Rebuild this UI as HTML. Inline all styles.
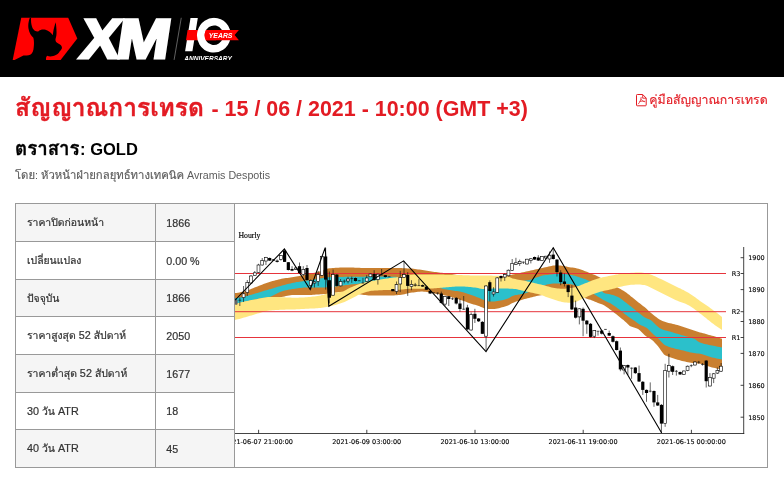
<!DOCTYPE html>
<html lang="th">
<head>
<meta charset="utf-8">
<title>สัญญาณการเทรด</title>
<style>
html,body{margin:0;padding:0;background:#fff;}
body{width:784px;height:483px;overflow:hidden;position:relative;font-family:"Liberation Sans","Loma",sans-serif;color:#333;}
.hdr{position:absolute;left:0;top:0;width:784px;height:77px;background:#000;}
.hdr svg{position:absolute;left:0;top:0;}
h1{position:absolute;left:15px;top:94px;margin:0;font-size:21.45px;line-height:28px;font-weight:bold;color:#e31b23;white-space:nowrap;}
h1 .th{font-size:24.55px;margin-right:1.65px;-webkit-text-stroke:0.35px #e31b23;}
.pdf{position:absolute;left:649.3px;top:90px;font-size:12.3px;line-height:20px;color:#e31b23;white-space:nowrap;}
.pdf .th{-webkit-text-stroke:0.15px #e31b23;}
.pdf svg{position:absolute;left:-13.2px;top:3.5px;}
h2{position:absolute;left:15px;top:138px;margin:0;font-size:16.5px;line-height:22px;font-weight:bold;color:#000;white-space:nowrap;}
h2 .th{font-size:18.7px;margin-right:0.5px;-webkit-text-stroke:0.3px #000;}
.by{position:absolute;left:15px;top:167px;font-size:10.7px;line-height:16px;color:#5c5c5c;white-space:nowrap;}
.by .th{font-size:11.3px;-webkit-text-stroke:0.15px #5c5c5c;}
table{position:absolute;left:15px;top:203px;width:753px;border-collapse:collapse;font-size:11px;color:#333;table-layout:fixed;}
td{border:1px solid #999;padding:0 0 0 11px;white-space:nowrap;overflow:hidden;-webkit-text-stroke:0.2px #333;}
td.k{font-size:10.8px;}
td.k .th{font-size:10.4px;-webkit-text-stroke:0.22px #333;}
td.v{padding-left:10.3px;font-size:10.7px;}
tr:nth-child(odd) td.c{background:#f5f5f5;}
td.g{padding:0;background:#fff;}
svg.chart{position:absolute;left:0;top:0;}
</style>
</head>
<body>
<div class="hdr"><svg width="260" height="77" viewBox="0 0 260 77">
<defs><clipPath id="lc"><rect x="0" y="17.4" width="260" height="42.5"/></clipPath></defs>
<g clip-path="url(#lc)">
<polygon points="21.3,17.5 68.1,17.5 77.3,38.4 60.6,59.9 12.7,59.9" fill="#ff0000"/>
<g transform="translate(10,12) scale(0.10767)">
<path fill="#000" d="M185 50 C172 85 166 120 172 155 C178 190 195 222 217 238 C224 262 224 300 220 330 C218 360 210 385 188 398 C165 408 140 400 125 405 L40 447 L335 447 C332 430 336 412 347 406 C365 418 400 414 430 398 C448 388 460 372 462 364 C474 354 484 340 482 328 C480 312 466 300 448 293 C428 285 418 270 424 245 C436 215 434 170 425 95 C415 120 405 160 400 195 L396 216 C385 195 360 175 330 166 C305 160 280 165 262 180 C240 182 222 170 210 150 C198 125 193 90 196 50 Z"/>
</g>
<g transform="translate(76.2,58.4) skewX(-8.5)"><text x="2.6" y="0" font-family="'Liberation Sans',sans-serif" font-weight="bold" font-size="55.8" fill="#fff" stroke="#fff" stroke-width="3" stroke-linejoin="miter" textLength="39" lengthAdjust="spacingAndGlyphs">X</text><text x="38.6" y="0" font-family="'Liberation Sans',sans-serif" font-weight="bold" font-size="55.8" fill="#fff" stroke="#fff" stroke-width="3" stroke-linejoin="miter" textLength="53.2" lengthAdjust="spacingAndGlyphs">M</text></g>
<line x1="181.3" y1="17.6" x2="174.1" y2="59.9" stroke="#8a8a8a" stroke-width="0.7"/>
<polygon points="190.5,17.9 197.8,17.9 192.4,51.3 185.1,51.3" fill="#fff"/>
<polygon points="187.6,30.1 216,30.1 216,40.2 186,40.2" fill="#ff0000"/>
<ellipse cx="213.9" cy="35.2" rx="13.1" ry="13.6" fill="none" stroke="#fff" stroke-width="7.6" transform="rotate(12 213.9 35.2)"/>
<path d="M206 30.1 H238.9 L234.6 35.1 L238.9 40.2 H206 C204.2 37 204.2 33.3 206 30.1 Z" fill="#ff0000"/>
<text x="208.8" y="37.9" font-family="'Liberation Sans',sans-serif" font-weight="bold" font-style="italic" font-size="8.1" fill="#fff" textLength="23.6" lengthAdjust="spacingAndGlyphs">YEARS</text>
<text x="184.2" y="61.3" font-family="'Liberation Sans',sans-serif" font-weight="bold" font-style="italic" font-size="7.6" fill="#fff" textLength="47.6" lengthAdjust="spacingAndGlyphs">ANNIVERSARY</text>
</g>
</svg>
</div>
<h1><span class="th">สัญญาณการเทรด</span> - 15 / 06 / 2021 - 10:00 (GMT +3)</h1>
<div class="pdf"><svg width="11" height="13" viewBox="0 0 11 13"><path d="M1.3 0.5h5.4l3.5 3.6v6.9q0 .8-.8.800h-8.100q-.800 0-.800-.800v-9.700q0-.800.800-.800z" fill="none" stroke="#e31b23" stroke-width="1"/><path d="M6.7 0.8v3.4h3.4" fill="none" stroke="#e31b23" stroke-width="0.9"/><path d="M2 10.200c1.700-1.500 2.900-4 3.200-7.200M3.400 7.500c1.800-.500 3.900-.500 5.700-.100M5 4.800c.500 1.500 1.800 2.500 3.800 3" fill="none" stroke="#e31b23" stroke-width="0.75"/></svg><span class="th">คู่มือสัญญาณการเทรด</span></div>
<h2><span class="th">ตราสาร</span>: GOLD</h2>
<div class="by"><span class="th">โดย</span>: <span class="th">หัวหน้าฝ่ายกลยุทธ์ทางเทคนิค</span> Avramis Despotis</div>
<table>
<colgroup><col style="width:140px"><col style="width:79px"><col></colgroup>
<tr style="height:38px"><td class="c k"><span class="th">ราคาปิดก่อนหน้า</span></td><td class="c v">1866</td><td class="g" rowspan="7"></td></tr>
<tr style="height:38px"><td class="c k"><span class="th">เปลี่ยนแปลง</span></td><td class="c v">0.00 %</td></tr>
<tr style="height:37px"><td class="c k"><span class="th">ปัจจุบัน</span></td><td class="c v">1866</td></tr>
<tr style="height:38px"><td class="c k"><span class="th">ราคาสูงสุด</span> 52 <span class="th">สัปดาห์</span></td><td class="c v">2050</td></tr>
<tr style="height:38px"><td class="c k"><span class="th">ราคาต่ำสุด</span> 52 <span class="th">สัปดาห์</span></td><td class="c v">1677</td></tr>
<tr style="height:37px"><td class="c k">30 <span class="th">วัน</span> ATR</td><td class="c v">18</td></tr>
<tr style="height:38px"><td class="c k">40 <span class="th">วัน</span> ATR</td><td class="c v">45</td></tr>
</table>
<svg class="chart" width="784" height="483" viewBox="0 0 784 483">
<defs><clipPath id="cc"><rect x="235" y="204" width="532.5" height="263"/></clipPath></defs>
<g clip-path="url(#cc)">
<polygon points="235.0,293.1 236.5,292.9 238.0,292.7 239.5,292.4 241.0,292.1 242.5,291.7 244.0,291.4 245.5,291.0 247.0,290.5 248.5,290.0 250.0,289.4 251.5,288.8 253.0,288.2 254.5,287.6 256.0,287.0 257.5,286.4 259.0,285.8 260.5,285.3 262.0,284.7 263.5,284.1 265.0,283.5 266.5,283.0 268.0,282.5 269.5,282.0 271.0,281.5 272.5,281.1 274.0,280.7 275.5,280.3 277.0,279.9 278.5,279.5 280.0,279.2 281.5,278.8 283.0,278.6 284.5,278.3 286.0,278.1 287.5,277.9 289.0,277.7 290.5,277.5 292.0,277.3 293.5,277.1 295.0,276.8 296.5,276.5 298.0,276.3 299.5,276.0 301.0,275.7 302.5,275.4 304.0,275.0 305.5,274.7 307.0,274.4 308.5,274.1 310.0,273.8 311.5,273.4 313.0,273.1 314.5,272.8 316.0,272.4 317.5,272.0 319.0,271.6 320.5,271.2 322.0,270.6 323.5,269.9 325.0,269.3 326.5,268.8 328.0,268.5 329.5,268.3 331.0,268.2 332.5,268.1 334.0,267.9 335.5,267.8 337.0,267.7 338.5,267.7 340.0,267.6 341.5,267.5 343.0,267.5 344.5,267.5 346.0,267.5 347.5,267.5 349.0,267.5 350.5,267.6 352.0,267.6 353.5,267.6 355.0,267.7 356.5,267.7 358.0,267.8 359.5,267.8 361.0,267.9 362.5,267.9 364.0,267.9 365.5,268.0 367.0,268.0 368.5,268.0 370.0,268.0 371.5,268.0 373.0,268.0 374.5,268.0 376.0,268.0 377.5,268.0 379.0,268.0 380.5,268.0 382.0,268.0 383.5,268.0 385.0,268.0 386.5,268.0 388.0,268.0 389.5,268.0 391.0,268.0 392.5,268.0 394.0,268.0 395.5,268.0 397.0,268.0 398.5,268.0 400.0,268.1 401.5,268.1 403.0,268.2 404.5,268.2 406.0,268.3 407.5,268.4 409.0,268.4 410.5,268.5 412.0,268.6 413.5,268.8 415.0,269.0 416.5,269.2 418.0,269.4 419.5,269.6 421.0,269.8 422.5,270.0 424.0,270.2 425.5,270.5 427.0,270.7 428.5,271.0 430.0,271.2 431.5,271.5 433.0,271.7 434.5,271.9 436.0,272.1 437.5,272.3 439.0,272.5 440.5,272.7 442.0,272.8 443.5,273.0 445.0,273.2 446.5,273.4 448.0,273.6 449.5,273.8 451.0,274.0 452.5,274.3 454.0,274.6 455.5,274.8 457.0,275.1 458.5,275.3 460.0,275.5 461.5,275.7 463.0,275.9 464.5,276.1 466.0,276.3 467.5,276.5 469.0,276.7 470.5,276.9 472.0,277.0 473.5,277.2 475.0,277.3 476.5,277.4 478.0,277.5 479.5,277.5 481.0,277.5 482.5,277.5 484.0,277.5 485.5,277.5 487.0,277.5 488.5,277.5 490.0,277.5 491.5,277.5 493.0,277.5 494.5,277.5 496.0,277.5 497.5,277.5 499.0,277.5 500.5,277.5 502.0,277.2 503.5,276.8 505.0,276.3 506.5,275.9 508.0,275.6 509.5,275.2 511.0,274.9 512.5,274.6 514.0,274.3 515.5,273.9 517.0,273.6 518.5,273.2 520.0,272.9 521.5,272.5 523.0,272.2 524.5,271.9 526.0,271.5 527.5,271.2 529.0,270.9 530.5,270.5 532.0,270.2 533.5,269.9 535.0,269.5 536.5,269.2 538.0,268.9 539.5,268.6 541.0,268.2 542.5,267.9 544.0,267.5 545.5,267.2 547.0,266.9 548.5,266.5 550.0,266.2 551.5,265.9 553.0,265.6 554.5,265.4 556.0,265.2 557.5,265.3 559.0,265.4 560.5,265.6 562.0,265.8 563.5,266.0 565.0,266.3 566.5,266.6 568.0,266.9 569.5,267.2 571.0,267.4 572.5,267.6 574.0,267.8 575.5,268.1 577.0,268.4 578.5,268.8 580.0,269.3 581.5,269.8 583.0,270.3 584.5,270.9 586.0,271.5 587.5,272.1 589.0,272.7 590.5,273.3 592.0,273.9 593.5,274.5 595.0,275.1 596.5,275.8 598.0,276.5 599.5,277.2 601.0,278.1 602.5,278.9 604.0,279.8 605.5,280.7 607.0,281.6 608.5,282.4 610.0,283.3 611.5,284.2 613.0,285.0 614.5,285.8 616.0,286.6 617.5,287.4 619.0,288.3 620.5,289.1 622.0,289.9 623.5,290.8 625.0,291.7 626.5,292.8 628.0,293.9 629.5,295.1 631.0,296.4 632.5,297.6 634.0,298.8 635.5,300.0 637.0,301.2 638.5,302.5 640.0,303.6 641.5,304.8 643.0,305.9 644.5,307.0 646.0,308.3 647.5,309.7 649.0,311.2 650.5,312.5 652.0,313.7 653.5,315.0 655.0,316.2 656.5,317.3 658.0,318.4 659.5,319.4 661.0,320.3 662.5,321.0 664.0,321.6 665.5,322.1 667.0,322.6 668.5,322.9 670.0,323.3 671.5,323.6 673.0,324.0 674.5,324.3 676.0,324.7 677.5,325.1 679.0,325.6 680.5,326.0 682.0,326.5 683.5,327.0 685.0,327.5 686.5,328.0 688.0,328.5 689.5,329.1 691.0,329.6 692.5,330.1 694.0,330.6 695.5,331.1 697.0,331.5 698.5,331.9 700.0,332.4 701.5,332.8 703.0,333.2 704.5,333.6 706.0,334.0 707.5,334.4 709.0,334.9 710.5,335.3 712.0,335.7 713.5,336.1 715.0,336.6 716.5,337.0 718.0,337.5 719.5,338.0 722.0,338.8 722.0,369.4 719.5,369.0 718.0,368.7 716.5,368.4 715.0,368.1 713.5,367.7 712.0,367.4 710.5,366.9 709.0,366.5 707.5,365.9 706.0,365.4 704.5,364.9 703.0,364.4 701.5,364.0 700.0,363.8 698.5,363.6 697.0,363.4 695.5,363.3 694.0,363.1 692.5,362.9 691.0,362.7 689.5,362.4 688.0,362.2 686.5,361.9 685.0,361.6 683.5,361.2 682.0,360.9 680.5,360.5 679.0,360.1 677.5,359.7 676.0,359.2 674.5,358.7 673.0,358.2 671.5,357.7 670.0,357.2 668.5,356.7 667.0,356.1 665.5,355.4 664.0,354.4 662.5,352.6 661.0,350.4 659.5,348.2 658.0,346.3 656.5,344.6 655.0,342.9 653.5,341.3 652.0,340.0 650.5,339.0 649.0,338.1 647.5,337.2 646.0,336.2 644.5,335.0 643.0,333.5 641.5,331.9 640.0,330.5 638.5,329.3 637.0,328.5 635.5,328.0 634.0,327.5 632.5,327.1 631.0,326.5 629.5,325.7 628.0,324.3 626.5,322.8 625.0,321.4 623.5,320.1 622.0,318.9 620.5,317.7 619.0,316.5 617.5,315.3 616.0,314.1 614.5,312.9 613.0,311.7 611.5,310.5 610.0,309.4 608.5,308.3 607.0,307.2 605.5,306.2 604.0,305.3 602.5,304.6 601.0,304.0 599.5,303.4 598.0,302.9 596.5,302.3 595.0,301.7 593.5,301.0 592.0,300.4 590.5,299.8 589.0,299.4 587.5,299.0 586.0,298.4 584.5,297.7 583.0,296.8 581.5,295.9 580.0,295.0 578.5,294.2 577.0,293.5 575.5,293.1 574.0,292.9 572.5,292.7 571.0,292.5 569.5,292.4 568.0,292.2 566.5,292.1 565.0,292.0 563.5,292.0 562.0,292.0 560.5,292.0 559.0,292.1 557.5,292.2 556.0,292.3 554.5,292.5 553.0,292.6 551.5,292.8 550.0,293.0 548.5,293.3 547.0,293.7 545.5,294.2 544.0,294.6 542.5,294.9 541.0,295.2 539.5,295.5 538.0,295.8 536.5,296.1 535.0,296.5 533.5,296.8 532.0,297.2 530.5,297.5 529.0,297.9 527.5,298.3 526.0,298.7 524.5,299.1 523.0,299.6 521.5,300.0 520.0,300.4 518.5,300.9 517.0,301.3 515.5,301.8 514.0,302.4 512.5,303.0 511.0,303.8 509.5,304.7 508.0,305.5 506.5,306.0 505.0,306.5 503.5,306.9 502.0,307.3 500.5,307.8 499.0,308.2 497.5,308.5 496.0,308.7 494.5,308.9 493.0,309.0 491.5,309.1 490.0,309.1 488.5,309.0 487.0,308.8 485.5,308.6 484.0,308.3 482.5,307.6 481.0,306.9 479.5,306.2 478.0,305.7 476.5,305.2 475.0,304.8 473.5,304.4 472.0,303.9 470.5,303.4 469.0,302.9 467.5,302.4 466.0,301.8 464.5,301.3 463.0,300.8 461.5,300.2 460.0,299.8 458.5,299.3 457.0,298.8 455.5,298.3 454.0,297.8 452.5,297.4 451.0,296.9 449.5,296.5 448.0,296.1 446.5,295.8 445.0,295.4 443.5,295.1 442.0,294.8 440.5,294.6 439.0,294.3 437.5,294.0 436.0,293.7 434.5,293.4 433.0,293.1 431.5,292.7 430.0,292.4 428.5,292.2 427.0,292.0 425.5,291.8 424.0,291.7 422.5,291.6 421.0,291.6 419.5,291.7 418.0,291.8 416.5,292.0 415.0,292.2 413.5,292.4 412.0,292.6 410.5,292.8 409.0,293.1 407.5,293.4 406.0,293.8 404.5,294.2 403.0,294.5 401.5,294.8 400.0,295.0 398.5,295.1 397.0,295.2 395.5,295.3 394.0,295.4 392.5,295.4 391.0,295.5 389.5,295.5 388.0,295.6 386.5,295.6 385.0,295.6 383.5,295.6 382.0,295.6 380.5,295.6 379.0,295.6 377.5,295.6 376.0,295.6 374.5,295.6 373.0,295.6 371.5,295.6 370.0,295.5 368.5,295.4 367.0,295.3 365.5,295.1 364.0,294.9 362.5,294.7 361.0,294.5 359.5,294.3 358.0,294.0 356.5,293.7 355.0,293.3 353.5,293.0 352.0,292.7 350.5,292.5 349.0,292.4 347.5,292.3 346.0,292.2 344.5,292.1 343.0,292.1 341.5,292.0 340.0,292.0 338.5,292.1 337.0,292.4 335.5,292.7 334.0,293.1 332.5,293.3 331.0,293.5 329.5,293.7 328.0,293.8 326.5,293.9 325.0,294.0 323.5,294.1 322.0,294.2 320.5,294.3 319.0,294.4 317.5,294.5 316.0,294.6 314.5,294.7 313.0,294.8 311.5,294.9 310.0,294.9 308.5,295.0 307.0,295.0 305.5,295.0 304.0,295.0 302.5,295.0 301.0,295.0 299.5,295.0 298.0,295.0 296.5,295.0 295.0,295.0 293.5,295.0 292.0,295.1 290.5,295.3 289.0,295.6 287.5,295.8 286.0,296.1 284.5,296.4 283.0,296.7 281.5,297.0 280.0,297.2 278.5,297.4 277.0,297.7 275.5,297.9 274.0,298.1 272.5,298.4 271.0,298.7 269.5,299.0 268.0,299.4 266.5,299.8 265.0,300.3 263.5,300.8 262.0,301.4 260.5,301.9 259.0,302.4 257.5,302.9 256.0,303.3 254.5,303.7 253.0,304.1 251.5,304.4 250.0,304.8 248.5,305.2 247.0,305.5 245.5,305.9 244.0,306.2 242.5,306.6 241.0,306.9 239.5,307.2 238.0,307.5 236.5,307.7 235.0,308.0" fill="#c97f2f"/>
<polygon points="235.0,298.1 236.5,297.9 238.0,297.7 239.5,297.4 241.0,297.2 242.5,296.9 244.0,296.6 245.5,296.3 247.0,295.9 248.5,295.5 250.0,295.1 251.5,294.7 253.0,294.2 254.5,293.7 256.0,293.3 257.5,292.9 259.0,292.4 260.5,292.0 262.0,291.5 263.5,291.1 265.0,290.6 266.5,290.2 268.0,289.7 269.5,289.3 271.0,288.9 272.5,288.4 274.0,287.9 275.5,287.5 277.0,287.0 278.5,286.6 280.0,286.2 281.5,285.7 283.0,285.3 284.5,284.9 286.0,284.5 287.5,284.1 289.0,283.7 290.5,283.4 292.0,283.0 293.5,282.7 295.0,282.4 296.5,282.1 298.0,281.9 299.5,281.7 301.0,281.5 302.5,281.2 304.0,281.0 305.5,280.8 307.0,280.6 308.5,280.4 310.0,280.2 311.5,279.9 313.0,279.7 314.5,279.5 316.0,279.3 317.5,279.0 319.0,278.8 320.5,278.6 322.0,278.3 323.5,278.1 325.0,277.8 326.5,277.6 328.0,277.3 329.5,277.2 331.0,277.0 332.5,277.0 334.0,277.0 335.5,276.9 337.0,276.9 338.5,276.9 340.0,276.9 341.5,276.9 343.0,276.9 344.5,276.8 346.0,276.8 347.5,276.8 349.0,276.8 350.5,276.8 352.0,276.8 353.5,276.8 355.0,276.8 356.5,276.8 358.0,276.7 359.5,276.7 361.0,276.7 362.5,276.7 364.0,276.7 365.5,276.6 367.0,276.6 368.5,276.6 370.0,276.6 371.5,276.6 373.0,276.6 374.5,276.5 376.0,276.5 377.5,276.5 379.0,276.5 380.5,276.5 382.0,276.5 383.5,276.5 385.0,276.5 386.5,276.5 388.0,276.6 389.5,276.6 391.0,276.7 392.5,276.7 394.0,276.8 395.5,276.8 397.0,276.9 398.5,276.9 400.0,277.0 401.5,277.1 403.0,277.1 404.5,277.2 406.0,277.3 407.5,277.4 409.0,277.5 410.5,277.6 412.0,277.7 413.5,277.8 415.0,278.0 416.5,278.1 418.0,278.2 419.5,278.3 421.0,278.4 422.5,278.6 424.0,278.7 425.5,278.8 427.0,278.9 428.5,279.0 430.0,279.2 431.5,279.3 433.0,279.4 434.5,279.5 436.0,279.6 437.5,279.7 439.0,279.9 440.5,280.0 442.0,280.1 443.5,280.2 445.0,280.4 446.5,280.5 448.0,280.6 449.5,280.7 451.0,280.8 452.5,281.0 454.0,281.1 455.5,281.2 457.0,281.4 458.5,281.5 460.0,281.7 461.5,281.8 463.0,282.0 464.5,282.1 466.0,282.3 467.5,282.4 469.0,282.6 470.5,282.7 472.0,282.8 473.5,282.9 475.0,282.9 476.5,283.0 478.0,283.0 479.5,283.0 481.0,283.0 482.5,283.0 484.0,283.0 485.5,283.0 487.0,283.0 488.5,283.0 490.0,283.0 491.5,283.0 493.0,283.0 494.5,283.0 496.0,283.0 497.5,283.0 499.0,283.0 500.5,283.0 502.0,283.0 503.5,282.9 505.0,282.9 506.5,282.8 508.0,282.7 509.5,282.6 511.0,282.5 512.5,282.4 514.0,282.2 515.5,282.1 517.0,281.9 518.5,281.7 520.0,281.5 521.5,281.2 523.0,281.0 524.5,280.8 526.0,280.5 527.5,280.3 529.0,280.0 530.5,279.7 532.0,279.3 533.5,278.8 535.0,278.1 536.5,277.5 538.0,276.9 539.5,276.4 541.0,276.0 542.5,275.6 544.0,275.2 545.5,275.0 547.0,274.9 548.5,274.7 550.0,274.6 551.5,274.4 553.0,274.2 554.5,274.1 556.0,274.0 557.5,274.0 559.0,274.0 560.5,274.0 562.0,274.0 563.5,274.0 565.0,274.1 566.5,274.3 568.0,274.5 569.5,274.7 571.0,274.9 572.5,275.3 574.0,275.6 575.5,276.0 577.0,276.5 578.5,276.9 580.0,277.4 581.5,277.9 583.0,278.5 584.5,279.0 586.0,279.6 587.5,280.2 589.0,280.9 590.5,281.4 592.0,282.0 593.5,282.7 595.0,283.4 596.5,284.3 598.0,285.2 599.5,287.0 601.0,289.4 602.5,291.7 604.0,293.0 605.5,293.5 607.0,293.8 608.5,294.0 610.0,294.3 611.5,294.7 613.0,295.1 614.5,295.6 616.0,296.2 617.5,296.8 619.0,297.6 620.5,298.5 622.0,299.5 623.5,300.7 625.0,301.9 626.5,303.0 628.0,304.2 629.5,305.4 631.0,306.6 632.5,307.8 634.0,309.0 635.5,310.2 637.0,311.4 638.5,312.7 640.0,313.8 641.5,315.0 643.0,316.2 644.5,317.3 646.0,318.1 647.5,318.7 649.0,319.3 650.5,320.0 652.0,321.1 653.5,322.6 655.0,324.1 656.5,325.4 658.0,326.7 659.5,327.9 661.0,328.8 662.5,329.4 664.0,329.9 665.5,330.4 667.0,330.8 668.5,331.2 670.0,331.6 671.5,332.1 673.0,332.5 674.5,333.0 676.0,333.4 677.5,333.8 679.0,334.3 680.5,334.7 682.0,335.2 683.5,335.6 685.0,336.0 686.5,336.4 688.0,336.8 689.5,337.2 691.0,337.7 692.5,338.2 694.0,338.8 695.5,339.6 697.0,340.7 698.5,341.7 700.0,342.5 701.5,343.0 703.0,343.5 704.5,343.9 706.0,344.2 707.5,344.6 709.0,344.9 710.5,345.2 712.0,345.5 713.5,345.8 715.0,346.1 716.5,346.4 718.0,346.7 719.5,347.0 722.0,347.5 722.0,359.4 719.5,359.0 718.0,358.7 716.5,358.4 715.0,358.1 713.5,357.7 712.0,357.4 710.5,356.9 709.0,356.5 707.5,355.9 706.0,355.4 704.5,354.9 703.0,354.4 701.5,354.0 700.0,353.8 698.5,353.6 697.0,353.4 695.5,353.3 694.0,353.1 692.5,352.8 691.0,352.5 689.5,352.2 688.0,351.8 686.5,351.4 685.0,351.0 683.5,350.6 682.0,350.2 680.5,349.9 679.0,349.6 677.5,349.2 676.0,348.9 674.5,348.5 673.0,348.1 671.5,347.7 670.0,347.2 668.5,346.7 667.0,346.1 665.5,345.4 664.0,344.5 662.5,343.1 661.0,341.4 659.5,339.8 658.0,338.3 656.5,337.0 655.0,335.7 653.5,334.4 652.0,333.1 650.5,331.6 649.0,330.1 647.5,328.6 646.0,327.5 644.5,326.7 643.0,326.1 641.5,325.4 640.0,324.7 638.5,323.8 637.0,322.7 635.5,321.6 634.0,320.5 632.5,319.5 631.0,318.4 629.5,317.4 628.0,316.4 626.5,315.3 625.0,314.2 623.5,313.0 622.0,311.7 620.5,310.5 619.0,309.3 617.5,308.2 616.0,307.0 614.5,305.9 613.0,304.9 611.5,304.0 610.0,303.1 608.5,302.4 607.0,301.7 605.5,301.0 604.0,300.2 602.5,299.4 601.0,298.5 599.5,297.6 598.0,296.7 596.5,295.7 595.0,294.8 593.5,293.9 592.0,293.0 590.5,292.1 589.0,291.3 587.5,290.5 586.0,289.8 584.5,289.0 583.0,288.3 581.5,287.6 580.0,287.0 578.5,286.4 577.0,285.9 575.5,285.4 574.0,285.0 572.5,284.6 571.0,284.3 569.5,284.1 568.0,283.9 566.5,283.7 565.0,283.5 563.5,283.4 562.0,283.4 560.5,283.4 559.0,283.4 557.5,283.4 556.0,283.4 554.5,283.5 553.0,283.6 551.5,283.8 550.0,284.0 548.5,284.3 547.0,284.6 545.5,285.1 544.0,285.6 542.5,286.1 541.0,286.7 539.5,287.2 538.0,287.8 536.5,288.4 535.0,289.0 533.5,289.7 532.0,290.5 530.5,291.2 529.0,291.9 527.5,292.5 526.0,293.1 524.5,293.5 523.0,293.9 521.5,294.1 520.0,294.4 518.5,294.6 517.0,294.9 515.5,295.1 514.0,295.5 512.5,295.9 511.0,296.7 509.5,297.7 508.0,298.5 506.5,299.0 505.0,299.5 503.5,299.9 502.0,300.2 500.5,300.5 499.0,300.8 497.5,301.0 496.0,301.2 494.5,301.4 493.0,301.5 491.5,301.6 490.0,301.5 488.5,301.3 487.0,301.0 485.5,300.5 484.0,300.1 482.5,299.5 481.0,298.8 479.5,298.1 478.0,297.5 476.5,296.9 475.0,296.3 473.5,295.8 472.0,295.2 470.5,294.7 469.0,294.2 467.5,293.7 466.0,293.2 464.5,292.7 463.0,292.3 461.5,291.9 460.0,291.6 458.5,291.3 457.0,291.1 455.5,290.9 454.0,290.7 452.5,290.5 451.0,290.3 449.5,290.1 448.0,289.8 446.5,289.6 445.0,289.2 443.5,288.9 442.0,288.5 440.5,288.1 439.0,287.8 437.5,287.4 436.0,287.0 434.5,286.6 433.0,286.2 431.5,285.9 430.0,285.5 428.5,285.1 427.0,284.8 425.5,284.4 424.0,283.9 422.5,283.5 421.0,283.0 419.5,282.6 418.0,282.2 416.5,281.8 415.0,281.5 413.5,281.3 412.0,281.1 410.5,281.0 409.0,281.0 407.5,281.0 406.0,281.0 404.5,281.0 403.0,281.0 401.5,281.0 400.0,281.0 398.5,281.0 397.0,281.0 395.5,281.0 394.0,281.0 392.5,281.0 391.0,281.1 389.5,281.2 388.0,281.2 386.5,281.3 385.0,281.4 383.5,281.5 382.0,281.6 380.5,281.7 379.0,281.8 377.5,281.9 376.0,282.1 374.5,282.2 373.0,282.3 371.5,282.5 370.0,282.6 368.5,282.7 367.0,282.9 365.5,283.0 364.0,283.1 362.5,283.3 361.0,283.4 359.5,283.6 358.0,283.7 356.5,283.9 355.0,284.0 353.5,284.2 352.0,284.3 350.5,284.5 349.0,284.7 347.5,284.9 346.0,285.0 344.5,285.2 343.0,285.4 341.5,285.6 340.0,285.8 338.5,286.0 337.0,286.3 335.5,286.6 334.0,286.8 332.5,287.0 331.0,287.1 329.5,287.2 328.0,287.2 326.5,287.3 325.0,287.4 323.5,287.4 322.0,287.5 320.5,287.5 319.0,287.5 317.5,287.5 316.0,287.5 314.5,287.5 313.0,287.5 311.5,287.5 310.0,287.5 308.5,287.5 307.0,287.5 305.5,287.5 304.0,287.6 302.5,287.7 301.0,287.9 299.5,288.1 298.0,288.3 296.5,288.5 295.0,288.7 293.5,288.9 292.0,289.1 290.5,289.4 289.0,289.6 287.5,289.9 286.0,290.2 284.5,290.6 283.0,291.0 281.5,291.4 280.0,292.0 278.5,292.7 277.0,293.4 275.5,294.3 274.0,295.1 272.5,295.8 271.0,296.4 269.5,296.9 268.0,297.2 266.5,297.5 265.0,297.8 263.5,298.0 262.0,298.2 260.5,298.4 259.0,298.6 257.5,298.9 256.0,299.2 254.5,299.5 253.0,299.9 251.5,300.2 250.0,300.6 248.5,301.0 247.0,301.3 245.5,301.7 244.0,302.0 242.5,302.3 241.0,302.6 239.5,302.9 238.0,303.2 236.5,303.5 235.0,303.8" fill="#2bc0cb"/>
<polygon points="235.0,303.8 236.5,303.4 238.0,303.0 239.5,302.7 241.0,302.3 242.5,302.0 244.0,301.6 245.5,301.3 247.0,301.0 248.5,300.7 250.0,300.3 251.5,300.0 253.0,299.7 254.5,299.5 256.0,299.2 257.5,298.9 259.0,298.6 260.5,298.3 262.0,298.0 263.5,297.7 265.0,297.4 266.5,297.2 268.0,297.1 269.5,297.0 271.0,297.0 272.5,297.0 274.0,297.0 275.5,297.1 277.0,297.1 278.5,297.1 280.0,297.2 281.5,297.2 283.0,297.2 284.5,297.3 286.0,297.4 287.5,297.5 289.0,297.6 290.5,297.6 292.0,297.7 293.5,297.7 295.0,297.7 296.5,297.7 298.0,297.7 299.5,297.6 301.0,297.6 302.5,297.5 304.0,297.4 305.5,297.3 307.0,297.2 308.5,297.1 310.0,297.0 311.5,296.8 313.0,296.6 314.5,296.4 316.0,296.2 317.5,295.9 319.0,295.7 320.5,295.4 322.0,295.1 323.5,294.7 325.0,294.2 326.5,293.8 328.0,293.5 329.5,293.1 331.0,292.9 332.5,292.8 334.0,292.6 335.5,292.5 337.0,292.4 338.5,292.3 340.0,292.1 341.5,291.8 343.0,291.4 344.5,290.7 346.0,290.0 347.5,289.1 349.0,288.3 350.5,287.6 352.0,287.0 353.5,286.3 355.0,285.7 356.5,285.0 358.0,284.5 359.5,283.9 361.0,283.4 362.5,283.0 364.0,282.6 365.5,282.3 367.0,281.9 368.5,281.6 370.0,281.3 371.5,281.1 373.0,280.8 374.5,280.5 376.0,280.3 377.5,280.0 379.0,279.8 380.5,279.5 382.0,279.3 383.5,279.1 385.0,278.8 386.5,278.6 388.0,278.4 389.5,278.1 391.0,277.9 392.5,277.7 394.0,277.5 395.5,277.4 397.0,277.2 398.5,277.1 400.0,276.9 401.5,276.6 403.0,276.3 404.5,275.8 406.0,275.4 407.5,275.1 409.0,274.8 410.5,274.7 412.0,274.7 413.5,274.6 415.0,274.6 416.5,274.6 418.0,274.5 419.5,274.5 421.0,274.5 422.5,274.5 424.0,274.5 425.5,274.5 427.0,274.5 428.5,274.5 430.0,274.5 431.5,274.5 433.0,274.5 434.5,274.5 436.0,274.5 437.5,274.5 439.0,274.5 440.5,274.6 442.0,274.6 443.5,274.6 445.0,274.7 446.5,274.7 448.0,274.8 449.5,274.8 451.0,274.8 452.5,274.9 454.0,274.9 455.5,275.0 457.0,275.0 458.5,275.0 460.0,275.1 461.5,275.1 463.0,275.2 464.5,275.2 466.0,275.3 467.5,275.3 469.0,275.3 470.5,275.4 472.0,275.4 473.5,275.4 475.0,275.4 476.5,275.5 478.0,275.5 479.5,275.5 481.0,275.5 482.5,275.5 484.0,275.5 485.5,275.6 487.0,275.6 488.5,275.6 490.0,275.6 491.5,275.6 493.0,275.7 494.5,275.7 496.0,275.7 497.5,275.8 499.0,275.8 500.5,275.9 502.0,275.9 503.5,276.0 505.0,276.2 506.5,276.3 508.0,276.5 509.5,277.0 511.0,277.8 512.5,278.4 514.0,278.8 515.5,279.1 517.0,279.4 518.5,279.7 520.0,280.0 521.5,280.2 523.0,280.5 524.5,280.8 526.0,281.1 527.5,281.4 529.0,281.8 530.5,282.1 532.0,282.5 533.5,282.8 535.0,283.2 536.5,283.5 538.0,283.9 539.5,284.2 541.0,284.6 542.5,284.9 544.0,285.3 545.5,285.7 547.0,286.2 548.5,286.6 550.0,287.0 551.5,287.4 553.0,287.7 554.5,288.1 556.0,288.3 557.5,288.5 559.0,288.6 560.5,288.7 562.0,288.8 563.5,288.8 565.0,288.7 566.5,288.5 568.0,288.3 569.5,288.1 571.0,287.9 572.5,287.7 574.0,287.4 575.5,287.1 577.0,286.6 578.5,286.0 580.0,285.4 581.5,284.8 583.0,284.2 584.5,283.6 586.0,283.0 587.5,282.4 589.0,281.8 590.5,281.2 592.0,280.6 593.5,280.0 595.0,279.4 596.5,278.9 598.0,278.4 599.5,278.0 601.0,277.7 602.5,277.3 604.0,277.0 605.5,276.7 607.0,276.4 608.5,276.1 610.0,275.8 611.5,275.5 613.0,275.2 614.5,274.9 616.0,274.6 617.5,274.4 619.0,274.1 620.5,273.9 622.0,273.7 623.5,273.4 625.0,273.3 626.5,273.1 628.0,273.0 629.5,272.9 631.0,272.8 632.5,272.7 634.0,272.7 635.5,272.6 637.0,272.6 638.5,272.6 640.0,272.6 641.5,272.6 643.0,272.8 644.5,272.9 646.0,273.2 647.5,273.6 649.0,274.1 650.5,274.6 652.0,275.1 653.5,275.7 655.0,276.3 656.5,277.0 658.0,277.7 659.5,278.4 661.0,279.1 662.5,279.8 664.0,280.5 665.5,281.2 667.0,281.9 668.5,282.7 670.0,283.5 671.5,284.2 673.0,285.0 674.5,285.7 676.0,286.5 677.5,287.2 679.0,287.9 680.5,288.6 682.0,289.4 683.5,290.1 685.0,290.9 686.5,291.7 688.0,292.5 689.5,293.4 691.0,294.4 692.5,295.4 694.0,296.5 695.5,297.6 697.0,298.7 698.5,299.8 700.0,300.9 701.5,301.9 703.0,303.0 704.5,304.0 706.0,305.0 707.5,306.1 709.0,307.1 710.5,308.2 712.0,309.3 713.5,310.4 715.0,311.5 716.5,312.6 718.0,313.8 719.5,315.0 722.0,317.0 722.0,330.0 719.5,328.3 718.0,327.3 716.5,326.3 715.0,325.2 713.5,324.1 712.0,323.0 710.5,321.8 709.0,320.6 707.5,319.4 706.0,318.1 704.5,316.9 703.0,315.7 701.5,314.5 700.0,313.4 698.5,312.2 697.0,311.1 695.5,309.9 694.0,308.8 692.5,307.7 691.0,306.7 689.5,305.8 688.0,305.0 686.5,304.3 685.0,303.6 683.5,303.0 682.0,302.5 680.5,301.9 679.0,301.4 677.5,300.8 676.0,300.2 674.5,299.5 673.0,298.8 671.5,298.1 670.0,297.3 668.5,296.6 667.0,295.8 665.5,295.0 664.0,294.3 662.5,293.5 661.0,292.7 659.5,292.0 658.0,291.2 656.5,290.4 655.0,289.7 653.5,288.9 652.0,288.2 650.5,287.5 649.0,286.8 647.5,286.1 646.0,285.5 644.5,285.1 643.0,284.9 641.5,284.7 640.0,284.6 638.5,284.6 637.0,284.6 635.5,284.6 634.0,284.7 632.5,284.7 631.0,284.8 629.5,285.0 628.0,285.3 626.5,285.6 625.0,285.8 623.5,286.1 622.0,286.4 620.5,286.7 619.0,287.1 617.5,287.5 616.0,287.9 614.5,288.4 613.0,288.8 611.5,289.2 610.0,289.6 608.5,289.9 607.0,290.2 605.5,290.5 604.0,290.8 602.5,291.2 601.0,291.6 599.5,292.1 598.0,292.6 596.5,293.1 595.0,293.6 593.5,294.1 592.0,294.6 590.5,295.2 589.0,295.8 587.5,296.5 586.0,297.2 584.5,297.9 583.0,298.6 581.5,299.3 580.0,300.0 578.5,300.8 577.0,301.4 575.5,301.9 574.0,302.2 572.5,302.5 571.0,302.7 569.5,302.8 568.0,302.8 566.5,302.6 565.0,302.4 563.5,302.2 562.0,301.9 560.5,301.6 559.0,301.2 557.5,300.7 556.0,300.3 554.5,299.8 553.0,299.3 551.5,298.8 550.0,298.3 548.5,297.8 547.0,297.2 545.5,296.7 544.0,296.1 542.5,295.6 541.0,295.1 539.5,294.6 538.0,294.1 536.5,293.7 535.0,293.4 533.5,293.0 532.0,292.7 530.5,292.4 529.0,292.1 527.5,291.8 526.0,291.5 524.5,291.1 523.0,290.8 521.5,290.4 520.0,290.0 518.5,289.7 517.0,289.3 515.5,289.1 514.0,288.9 512.5,288.8 511.0,288.7 509.5,288.7 508.0,288.6 506.5,288.6 505.0,288.6 503.5,288.5 502.0,288.5 500.5,288.5 499.0,288.5 497.5,288.5 496.0,288.5 494.5,288.6 493.0,288.6 491.5,288.7 490.0,288.8 488.5,288.9 487.0,289.0 485.5,289.0 484.0,289.0 482.5,288.9 481.0,288.7 479.5,288.4 478.0,288.1 476.5,287.8 475.0,287.6 473.5,287.4 472.0,287.2 470.5,287.1 469.0,286.9 467.5,286.8 466.0,286.7 464.5,286.6 463.0,286.5 461.5,286.4 460.0,286.4 458.5,286.4 457.0,286.5 455.5,286.6 454.0,286.7 452.5,286.8 451.0,287.0 449.5,287.1 448.0,287.2 446.5,287.3 445.0,287.5 443.5,287.6 442.0,287.7 440.5,287.8 439.0,288.0 437.5,288.1 436.0,288.2 434.5,288.3 433.0,288.4 431.5,288.4 430.0,288.5 428.5,288.6 427.0,288.7 425.5,288.7 424.0,288.7 422.5,288.8 421.0,288.8 419.5,288.8 418.0,288.8 416.5,288.8 415.0,288.8 413.5,288.8 412.0,288.8 410.5,288.8 409.0,288.8 407.5,288.9 406.0,289.0 404.5,289.2 403.0,289.4 401.5,289.6 400.0,289.7 398.5,289.8 397.0,289.8 395.5,289.9 394.0,289.9 392.5,289.9 391.0,290.0 389.5,290.0 388.0,290.0 386.5,290.1 385.0,290.1 383.5,290.1 382.0,290.2 380.5,290.3 379.0,290.3 377.5,290.4 376.0,290.5 374.5,290.6 373.0,290.7 371.5,290.8 370.0,291.1 368.5,291.4 367.0,291.8 365.5,292.2 364.0,292.7 362.5,293.2 361.0,293.7 359.5,294.4 358.0,295.1 356.5,295.9 355.0,296.7 353.5,297.5 352.0,298.3 350.5,299.0 349.0,299.7 347.5,300.5 346.0,301.2 344.5,301.9 343.0,302.5 341.5,303.1 340.0,303.6 338.5,304.1 337.0,304.5 335.5,305.0 334.0,305.3 332.5,305.7 331.0,306.0 329.5,306.4 328.0,306.7 326.5,307.0 325.0,307.3 323.5,307.6 322.0,307.8 320.5,308.0 319.0,308.1 317.5,308.2 316.0,308.3 314.5,308.4 313.0,308.5 311.5,308.5 310.0,308.6 308.5,308.7 307.0,308.8 305.5,308.8 304.0,308.9 302.5,309.0 301.0,309.1 299.5,309.2 298.0,309.2 296.5,309.3 295.0,309.4 293.5,309.4 292.0,309.5 290.5,309.5 289.0,309.6 287.5,309.6 286.0,309.6 284.5,309.7 283.0,309.7 281.5,309.8 280.0,309.8 278.5,309.9 277.0,310.0 275.5,310.1 274.0,310.2 272.5,310.3 271.0,310.4 269.5,310.6 268.0,310.8 266.5,311.1 265.0,311.4 263.5,311.8 262.0,312.3 260.5,312.7 259.0,313.2 257.5,313.6 256.0,314.0 254.5,314.5 253.0,314.9 251.5,315.4 250.0,315.8 248.5,316.3 247.0,316.8 245.5,317.2 244.0,317.6 242.5,318.1 241.0,318.5 239.5,318.9 238.0,319.2 236.5,319.6 235.0,320.0" fill="#ffe680"/>
<line x1="235" y1="273.5" x2="726" y2="273.5" stroke="#e6343c" stroke-width="1"/>
<line x1="235" y1="311.7" x2="726" y2="311.7" stroke="#e6343c" stroke-width="1"/>
<line x1="235" y1="337.5" x2="726" y2="337.5" stroke="#e6343c" stroke-width="1"/>
<path d="M236.10 298.0V305.0M239.83 297.5V306.0M238.38 300.2H241.28M243.56 286.0V302.0M247.29 280.0V296.0M251.02 275.0V284.0M254.75 271.0V276.0M258.49 263.8V273.0M262.22 258.0V265.6M265.95 256.9V265.0M269.68 257.5V261.0M273.41 259.0V261.0M277.14 259.4V262.5M280.87 255.0V260.6M284.60 249.0V262.0M288.33 262.0V270.5M292.06 266.2V271.2M295.80 267.0V270.0M299.53 262.5V273.5M303.26 266.2V276.0M306.99 265.0V280.6M310.72 279.4V289.4M314.45 281.0V287.5M318.18 271.0V285.9M321.91 256.0V276.0M325.64 247.8V289.6M329.38 271.5V303.4M333.11 269.6V295.5M336.84 274.0V286.5M340.57 279.0V286.5M344.30 279.6V283.4M342.85 281.2H345.75M348.03 276.8V283.4M351.76 276.5V282.8M350.31 278.6H353.21M355.49 277.5V281.5M359.22 280.5V281.0M357.77 280.8H360.67M362.95 277.8V283.4M361.50 283.0H364.40M366.69 275.2V281.5M370.42 273.5V277.0M374.15 270.2V280.5M377.88 273.5V284.6M381.61 269.0V275.2M380.16 274.9H383.06M385.34 275.0V277.5M389.07 276.5V277.0M387.62 276.8H390.52M392.80 289.0V291.2M396.53 281.5V294.0M400.26 270.9V292.1M404.00 260.9V277.8M407.73 272.1V295.9M411.46 280.2V290.2M415.19 282.9V286.6M418.92 279.1V286.0M417.47 285.6H420.37M422.65 284.5V287.0M426.38 286.0V290.0M430.11 290.5V294.0M433.84 292.5V293.0M432.39 292.8H435.29M437.57 292.5V294.8M436.12 293.1H439.02M441.30 291.6V303.5M445.04 296.0V306.0M448.77 296.0V306.0M452.50 297.5V300.0M451.05 298.8H453.95M456.23 297.0V304.5M459.96 298.5V311.6M463.69 296.0V309.8M462.24 309.2H465.14M467.42 304.8V330.0M471.15 312.5V330.6M474.88 308.8V323.0M478.62 318.0V322.0M482.35 321.0V334.0M486.08 285.0V351.2M489.81 280.4V301.6M493.54 287.2V296.6M497.27 277.0V293.0M501.00 275.5V281.5M504.73 273.4V280.9M508.46 269.5V276.5M512.19 259.0V271.0M515.92 257.8V265.0M519.66 259.6V265.9M523.39 261.5V264.0M521.94 262.2H524.84M527.12 258.8V264.5M530.85 258.0V263.4M534.58 256.5V260.0M538.31 255.2V261.0M542.04 256.0V261.0M545.77 255.8V259.0M549.50 251.5V262.8M553.24 247.8V259.5M556.97 259.0V276.5M560.70 270.2V285.2M564.43 273.4V286.5M568.16 284.5V297.1M571.89 285.2V310.0M575.62 300.6V318.5M579.35 308.0V324.4M583.08 307.5V336.2M586.81 320.0V333.8M590.54 323.0V337.5M594.28 330.0V338.1M598.01 331.0V335.6M596.56 331.2H599.46M601.74 330.0V334.5M605.47 329.2V329.7M604.02 329.4H606.92M609.20 330.6V336.0M612.93 335.5V342.5M616.66 340.5V350.5M620.39 347.5V371.2M624.12 365.0V374.4M627.86 364.5V375.0M631.59 367.5V378.8M630.14 368.2H633.04M635.32 367.0V374.0M639.05 365.6V382.0M642.78 381.0V394.9M646.51 389.5V401.8M650.24 382.4V392.4M648.79 391.2H651.69M653.97 390.5V406.8M657.70 394.9V406.0M661.43 404.0V433.0M665.16 363.8V426.8M668.90 353.8V377.5M672.63 365.5V375.0M676.36 370.0V375.6M674.91 371.3H677.81M680.09 371.5V375.0M683.82 370.5V375.0M687.55 365.5V371.2M691.28 364.4V367.2M689.83 365.6H692.73M695.01 361.2V365.6M698.74 360.9V363.8M697.29 362.2H700.19M702.48 363.1V365.6M701.02 364.4H703.93M706.21 360.0V387.5M709.94 373.1V386.5M713.67 373.0V383.1M717.40 367.5V374.0M721.13 363.0V372.0" stroke="#111" stroke-width="0.65" fill="none"/>
<g fill="#fff" stroke="#000" stroke-width="0.6"><rect x="242.11" y="293.8" width="2.9" height="3.8"/><rect x="245.84" y="282.5" width="2.9" height="10.0"/><rect x="249.57" y="276.0" width="2.9" height="7.0"/><rect x="253.31" y="272.8" width="2.9" height="2.9"/><rect x="257.04" y="265.0" width="2.9" height="7.5"/><rect x="260.77" y="260.6" width="2.9" height="4.4"/><rect x="264.50" y="257.5" width="2.9" height="3.5"/><rect x="279.42" y="255.6" width="2.9" height="3.8"/><rect x="294.35" y="268.0" width="2.9" height="1.4"/><rect x="301.81" y="269.4" width="2.9" height="5.0"/><rect x="309.27" y="280.6" width="2.9" height="5.0"/><rect x="313.00" y="281.9" width="2.9" height="1.2"/><rect x="316.73" y="274.6" width="2.9" height="6.9"/><rect x="320.46" y="256.5" width="2.9" height="18.8"/><rect x="331.66" y="274.6" width="2.9" height="20.6"/><rect x="339.12" y="281.5" width="2.9" height="4.4"/><rect x="346.58" y="279.0" width="2.9" height="2.0"/><rect x="365.24" y="278.0" width="2.9" height="3.2"/><rect x="368.97" y="274.0" width="2.9" height="2.8"/><rect x="376.43" y="274.2" width="2.9" height="5.4"/><rect x="395.08" y="284.6" width="2.9" height="6.9"/><rect x="398.81" y="277.5" width="2.9" height="6.5"/><rect x="402.55" y="274.6" width="2.9" height="2.9"/><rect x="410.01" y="284.4" width="2.9" height="2.1"/><rect x="443.59" y="296.6" width="2.9" height="7.5"/><rect x="469.70" y="314.4" width="2.9" height="15.6"/><rect x="484.63" y="286.0" width="2.9" height="50.2"/><rect x="492.09" y="292.0" width="2.9" height="2.0"/><rect x="495.82" y="277.9" width="2.9" height="14.4"/><rect x="503.28" y="274.6" width="2.9" height="2.5"/><rect x="507.01" y="270.2" width="2.9" height="5.6"/><rect x="510.74" y="263.4" width="2.9" height="6.9"/><rect x="514.47" y="262.8" width="2.9" height="1.5"/><rect x="518.21" y="261.5" width="2.9" height="2.2"/><rect x="525.67" y="259.2" width="2.9" height="4.8"/><rect x="529.40" y="258.8" width="2.9" height="1.8"/><rect x="540.59" y="256.5" width="2.9" height="4.0"/><rect x="544.32" y="256.2" width="2.9" height="1.8"/><rect x="548.05" y="255.2" width="2.9" height="3.8"/><rect x="577.90" y="308.8" width="2.9" height="8.1"/><rect x="592.83" y="330.6" width="2.9" height="5.6"/><rect x="622.67" y="365.6" width="2.9" height="4.4"/><rect x="663.71" y="370.6" width="2.9" height="53.0"/><rect x="667.45" y="365.6" width="2.9" height="5.6"/><rect x="682.37" y="371.0" width="2.9" height="3.6"/><rect x="686.10" y="366.2" width="2.9" height="4.4"/><rect x="693.56" y="362.0" width="2.9" height="3.0"/><rect x="708.49" y="377.5" width="2.9" height="8.5"/><rect x="712.22" y="373.8" width="2.9" height="4.4"/><rect x="715.95" y="370.6" width="2.9" height="2.5"/><rect x="719.68" y="366.2" width="2.9" height="5.0"/></g>
<g fill="#000"><rect x="234.65" y="300.0" width="2.9" height="4.4" fill="#666"/><rect x="268.08" y="258.0" width="3.1999999999999997" height="2.6"/><rect x="271.81" y="259.4" width="3.1999999999999997" height="1.2"/><rect x="275.54" y="260.6" width="3.1999999999999997" height="1.3"/><rect x="283.00" y="250.6" width="3.1999999999999997" height="11.3"/><rect x="286.73" y="262.2" width="3.1999999999999997" height="7.8"/><rect x="290.47" y="269.0" width="3.1999999999999997" height="1.6"/><rect x="297.93" y="266.2" width="3.1999999999999997" height="6.8"/><rect x="305.39" y="268.0" width="3.1999999999999997" height="12.0"/><rect x="324.04" y="256.5" width="3.1999999999999997" height="23.1"/><rect x="327.78" y="280.2" width="3.1999999999999997" height="17.5"/><rect x="335.24" y="274.6" width="3.1999999999999997" height="11.3"/><rect x="353.89" y="278.0" width="3.1999999999999997" height="3.0"/><rect x="372.55" y="274.0" width="3.1999999999999997" height="6.0"/><rect x="383.74" y="275.2" width="3.1999999999999997" height="1.8"/><rect x="391.20" y="289.0" width="3.1999999999999997" height="2.2"/><rect x="406.13" y="275.0" width="3.1999999999999997" height="10.9"/><rect x="413.59" y="284.6" width="3.1999999999999997" height="1.0"/><rect x="421.05" y="285.1" width="3.1999999999999997" height="1.5"/><rect x="424.78" y="286.6" width="3.1999999999999997" height="3.1"/><rect x="428.51" y="291.0" width="3.1999999999999997" height="2.5"/><rect x="439.70" y="293.5" width="3.1999999999999997" height="9.4"/><rect x="447.17" y="296.2" width="3.1999999999999997" height="2.8"/><rect x="454.63" y="297.9" width="3.1999999999999997" height="5.6"/><rect x="458.36" y="303.5" width="3.1999999999999997" height="5.5"/><rect x="465.82" y="307.5" width="3.1999999999999997" height="21.9"/><rect x="473.28" y="313.8" width="3.1999999999999997" height="5.0"/><rect x="477.02" y="318.5" width="3.1999999999999997" height="2.8"/><rect x="480.75" y="321.9" width="3.1999999999999997" height="11.9"/><rect x="488.21" y="282.2" width="3.1999999999999997" height="8.8"/><rect x="499.40" y="276.0" width="3.1999999999999997" height="2.2"/><rect x="532.98" y="257.0" width="3.1999999999999997" height="2.6"/><rect x="536.71" y="257.5" width="3.1999999999999997" height="3.0"/><rect x="551.63" y="254.6" width="3.1999999999999997" height="4.4"/><rect x="555.37" y="259.6" width="3.1999999999999997" height="12.5"/><rect x="559.10" y="272.5" width="3.1999999999999997" height="9.6"/><rect x="562.83" y="281.5" width="3.1999999999999997" height="2.5"/><rect x="566.56" y="285.2" width="3.1999999999999997" height="6.9"/><rect x="570.29" y="295.6" width="3.1999999999999997" height="13.8"/><rect x="574.02" y="307.5" width="3.1999999999999997" height="10.2"/><rect x="581.48" y="308.8" width="3.1999999999999997" height="11.9"/><rect x="585.21" y="320.6" width="3.1999999999999997" height="3.8"/><rect x="588.94" y="323.8" width="3.1999999999999997" height="13.1"/><rect x="600.14" y="330.6" width="3.1999999999999997" height="3.1"/><rect x="607.60" y="333.0" width="3.1999999999999997" height="2.6"/><rect x="611.33" y="336.2" width="3.1999999999999997" height="5.6"/><rect x="615.06" y="341.2" width="3.1999999999999997" height="8.8"/><rect x="618.79" y="350.6" width="3.1999999999999997" height="18.8"/><rect x="626.25" y="365.0" width="3.1999999999999997" height="2.5"/><rect x="633.72" y="367.5" width="3.1999999999999997" height="5.6"/><rect x="637.45" y="373.1" width="3.1999999999999997" height="8.4"/><rect x="641.18" y="381.8" width="3.1999999999999997" height="8.1"/><rect x="644.91" y="389.9" width="3.1999999999999997" height="3.1"/><rect x="652.37" y="391.0" width="3.1999999999999997" height="11.4"/><rect x="656.10" y="402.4" width="3.1999999999999997" height="3.1"/><rect x="659.83" y="404.9" width="3.1999999999999997" height="18.7"/><rect x="671.03" y="366.2" width="3.1999999999999997" height="5.6"/><rect x="678.49" y="372.0" width="3.1999999999999997" height="2.4"/><rect x="704.61" y="360.6" width="3.1999999999999997" height="20.6"/></g>
<polyline points="235,300.2 284.4,249 310.2,289.5 325.2,247.6 328.8,306.3 403.6,260.9 486,351.5 553.25,247.75 661.7,433" fill="none" stroke="#000" stroke-width="1.1" stroke-linejoin="miter"/>
<path d="M235 433.5H744.2M743.7 247V434M740.6 257.7H743.7M740.6 289.6H743.7M740.6 321.5H743.7M740.6 353.4H743.7M740.6 385.3H743.7M740.6 417.2H743.7M740.6 273.5H743.7M740.6 311.7H743.7M740.6 337.5H743.7M258.6 429.8V433.5M366.8 429.8V433.5M475.0 429.8V433.5M583.2 429.8V433.5M691.4 429.8V433.5" stroke="#222" stroke-width="0.85" fill="none"/>
<g font-family="'DejaVu Sans',sans-serif" font-size="6.5" fill="#000" stroke="#000" stroke-width="0.12">
<text x="748.2" y="260.09999999999997">1900</text>
<text x="748.2" y="292.0">1890</text>
<text x="748.2" y="323.9">1880</text>
<text x="748.2" y="355.79999999999995">1870</text>
<text x="748.2" y="387.7">1860</text>
<text x="748.2" y="419.59999999999997">1850</text>
<text x="740.4" y="275.9" text-anchor="end">R3</text>
<text x="740.4" y="314.09999999999997" text-anchor="end">R2</text>
<text x="740.4" y="339.9" text-anchor="end">R1</text>
<text x="258.5" y="444.35" text-anchor="middle">2021-06-07 21:00:00</text>
<text x="366.7" y="444.35" text-anchor="middle">2021-06-09 03:00:00</text>
<text x="474.9" y="444.35" text-anchor="middle">2021-06-10 13:00:00</text>
<text x="583.1" y="444.35" text-anchor="middle">2021-06-11 19:00:00</text>
<text x="691.3" y="444.35" text-anchor="middle">2021-06-15 00:00:00</text>
</g>
<text x="238.4" y="237.7" font-family="'Liberation Serif',serif" font-size="7.8" fill="#000" stroke="#000" stroke-width="0.15">Hourly</text>
</g>
</svg>
</body>
</html>
